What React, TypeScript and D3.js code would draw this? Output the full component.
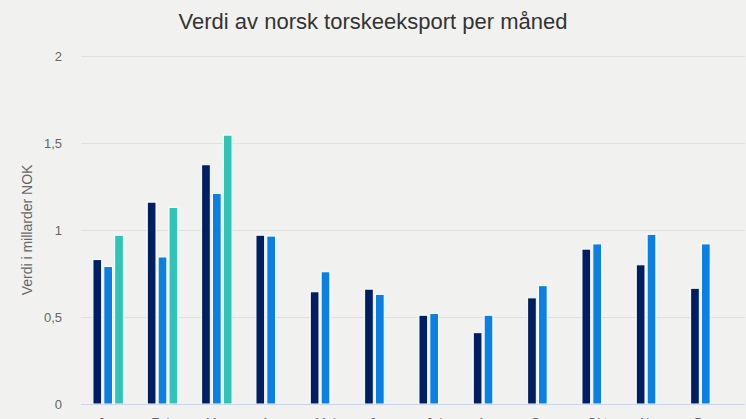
import React from "react";
import * as d3 from "d3";

const months = ["Jan", "Feb", "Mar", "Apr", "Mai", "Jun", "Jul", "Aug", "Sep", "Okt", "Nov", "Des"];
const seriesNames = ["2022", "2023", "2024"];
const series2022 = [0.83, 1.16, 1.375, 0.97, 0.645, 0.66, 0.51, 0.41, 0.61, 0.89, 0.80, 0.665];
const series2023 = [0.79, 0.845, 1.21, 0.965, 0.76, 0.63, 0.52, 0.51, 0.68, 0.92, 0.975, 0.92];
const series2024: (number | null)[] = [0.97, 1.13, 1.545, null, null, null, null, null, null, null, null, null];
const yTicks = [0, 0.5, 1, 1.5, 2];
const colors = ["#001e62", "#0a80e2", "#2ec5b7"];

export default function App() {
  const W = 746, H = 419;
  const left = 81, right = 733, top = 56, bottom = 404;
  const x0 = d3.scaleBand<string>().domain(months).range([left, right]).padding(0);
  const bw = x0.bandwidth();
  const x1 = d3.scaleBand<string>().domain(seriesNames).range([0.2 * bw, 0.8 * bw]).paddingInner(0.2).paddingOuter(0.1);
  const y = d3.scaleLinear().domain([0, 2]).range([bottom, top]);
  const data = [series2022, series2023, series2024];
  const fmt = (v: number) => String(v).replace(".", ",");

  return (
    <svg width={W} height={H} style={{ position: "absolute", left: 0, top: 0, fontFamily: "'Liberation Sans', Arial, sans-serif" }}>
      <rect x={0} y={0} width={W} height={H} fill="#f1f2f0" />
      <text x={W / 2} y={29} textAnchor="middle" fontSize={22} fill="#333333">Verdi av norsk torskeeksport per måned</text>
      {yTicks.map((t) => (
        <g key={t}>
          {t > 0 && <line x1={left} x2={right + 12} y1={Math.round(y(t)) + 0.5} y2={Math.round(y(t)) + 0.5} stroke="#e0e0e0" strokeWidth={1} />}
          <text x={62} y={y(t) + 4.5} textAnchor="end" fontSize={13} fill="#666666">{fmt(t)}</text>
        </g>
      ))}
      <text transform={`translate(32,${(top + bottom) / 2}) rotate(-90)`} textAnchor="middle" fontSize={14} fill="#666666">Verdi i millarder NOK</text>
      {data.map((arr, si) =>
        arr.map((v, i) =>
          v == null ? null : (
            <rect
              key={`${si}-${i}`}
              x={(x0(months[i]) as number) + (x1(seriesNames[si]) as number)}
              y={y(v)}
              width={x1.bandwidth()}
              height={bottom - y(v)}
              fill={colors[si]}
              stroke="#ffffff"
              strokeWidth={1}
            />
          )
        )
      )}
      <line x1={left} x2={right + 12} y1={bottom + 0.5} y2={bottom + 0.5} stroke="#ccd6eb" strokeWidth={1} />
      {months.map((m) => (
        <text key={m} x={(x0(m) as number) + bw / 2} y={427} textAnchor="middle" fontSize={13} fill="#666666">{m}</text>
      ))}
    </svg>
  );
}
